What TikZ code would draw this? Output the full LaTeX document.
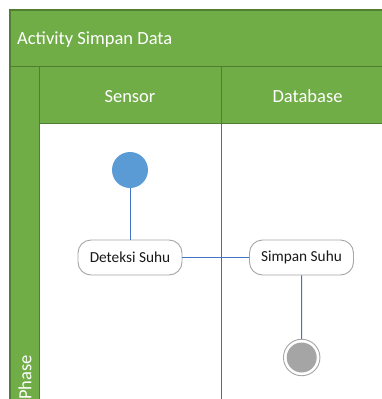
\documentclass[tikz,border=0pt]{standalone}
\usepackage{fontspec}
\setmainfont{Carlito}
\definecolor{lanegreen}{HTML}{70AD47}
\definecolor{laneedge}{HTML}{507E32}
\definecolor{startblue}{HTML}{5B9BD5}
\definecolor{flowblue}{HTML}{4472C4}
\definecolor{stategrey}{HTML}{A5A5A5}
\tikzset{
  headtext/.style={text=white, font=\fontsize{18.5}{22}\selectfont, inner sep=0pt},
  band/.style={fill=lanegreen, draw=laneedge, line width=1.3pt},
  lanerule/.style={draw=laneedge, line width=1.5pt},
  action/.style={rectangle, rounded corners=13pt, draw=stategrey, line width=0.9pt, fill=white,
    minimum width=104pt, minimum height=35pt, inner sep=0pt, text=black!90,
    font=\fontsize{15.3}{18}\selectfont},
  initial/.style={circle, fill=startblue, minimum size=36pt, inner sep=0pt},
  final/.style={circle, draw=stategrey, line width=0.9pt, fill=white,
    minimum size=36.5pt, inner sep=0pt},
  finalcore/.style={circle, fill=stategrey, minimum size=30pt, inner sep=0pt},
  flow/.style={draw=flowblue, line width=1pt}
}
\begin{document}
\begin{tikzpicture}[x=1pt, y=-1pt]
\useasboundingbox (0,0) rectangle (382,399);
\clip (0,0) rectangle (382,399);

% pool frame: title band, phase column, lane headers
\path[band] (10,10) rectangle (400,66.5);
\path[band] (10,66.5) rectangle (39.3,410);
\path[band] (39.3,66.5) rectangle (400,123.5);
\path[fill=white] (40,124.2) rectangle (400,410);
\draw[lanerule] (39.3,66.5) -- (39.3,410);
\draw[lanerule] (39.3,123.5) -- (400,123.5);

\node[headtext, anchor=west] (title) at (17,40) {Activity Simpan Data};
\node[headtext] (sensor) at (130,96.5) {Sensor};
\node[headtext] (database) at (307.5,96.5) {Database};
\node[headtext, rotate=90, anchor=east] (phase) at (25,355) {Phase};

% activity flow
\node[initial] (start) at (130,170) {};
\node[action] (deteksi) at (130,257.5) {Deteksi Suhu};
\node[action] (simpan) at (301.5,257.5) {Simpan Suhu};
\node[final] (end) at (301.7,357.5) {};
\node[finalcore] (endcore) at (end.center) {};

\draw[flow] (start) -- (deteksi);
\draw[flow] (deteksi) -- (simpan);
\draw[flow] (simpan) -- (end);

% lane divider sits above the flow lines
\draw[lanerule] (221.7,66.5) -- (221.7,410);
\end{tikzpicture}
\end{document}
